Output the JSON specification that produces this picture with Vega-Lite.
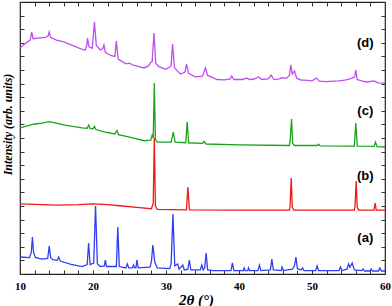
{
"$schema":"https://vega.github.io/schema/vega-lite/v6.json",
"width":365,"height":272,
"autosize":"none",
"padding":{"left":20,"top":2,"right":7,"bottom":32},
"background":"white",
"config":{"view":{"stroke":"#222","strokeWidth":1.2},"axis":{"grid":false,"domain":false,"tickColor":"#333","tickWidth":1}},
"datasets":{
"labels":[{"lab":"(a)","t":57.3,"v":2.65},{"lab":"(b)","t":57.3,"v":7.2},{"lab":"(c)","t":57.3,"v":11.99},{"lab":"(d)","t":57.3,"v":16.98}],
"xrd":[
{"s":"a","t":10,"v":1.25},{"s":"a","t":11.3,"v":1.2},{"s":"a","t":11.55,"v":1.6},{"s":"a","t":11.7,"v":2.72},{"s":"a","t":11.85,"v":1.6},{"s":"a","t":12.1,"v":1.22},{"s":"a","t":13.0,"v":1.1},{"s":"a","t":13.8,"v":1.15},{"s":"a","t":14.0,"v":2.06},{"s":"a","t":14.2,"v":1.2},{"s":"a","t":14.5,"v":1.05},{"s":"a","t":15.1,"v":1.0},{"s":"a","t":15.3,"v":1.25},{"s":"a","t":15.5,"v":0.95},{"s":"a","t":17.0,"v":0.7},{"s":"a","t":18.5,"v":0.55},{"s":"a","t":19.2,"v":0.7},{"s":"a","t":19.4,"v":2.28},{"s":"a","t":19.6,"v":0.7},{"s":"a","t":20.1,"v":0.8},{"s":"a","t":20.35,"v":5.0},{"s":"a","t":20.6,"v":0.75},{"s":"a","t":21.0,"v":0.55},{"s":"a","t":21.55,"v":0.6},{"s":"a","t":21.7,"v":1.03},{"s":"a","t":21.85,"v":0.55},{"s":"a","t":23.2,"v":0.55},{"s":"a","t":23.4,"v":3.46},{"s":"a","t":23.6,"v":0.55},{"s":"a","t":24.5,"v":0.45},{"s":"a","t":24.7,"v":0.74},{"s":"a","t":24.9,"v":0.45},{"s":"a","t":25.4,"v":0.45},{"s":"a","t":25.55,"v":0.66},{"s":"a","t":25.7,"v":0.45},{"s":"a","t":25.9,"v":0.5},{"s":"a","t":26.0,"v":1.03},{"s":"a","t":26.2,"v":0.45},{"s":"a","t":27.8,"v":0.5},{"s":"a","t":28.0,"v":0.9},{"s":"a","t":28.2,"v":2.13},{"s":"a","t":28.45,"v":0.9},{"s":"a","t":28.8,"v":0.45},{"s":"a","t":30.5,"v":0.4},{"s":"a","t":30.7,"v":0.7},{"s":"a","t":30.95,"v":4.41},{"s":"a","t":31.2,"v":0.6},{"s":"a","t":31.6,"v":0.74},{"s":"a","t":31.8,"v":0.35},{"s":"a","t":32.3,"v":0.66},{"s":"a","t":32.5,"v":0.3},{"s":"a","t":33.0,"v":0.35},{"s":"a","t":33.2,"v":1.03},{"s":"a","t":33.4,"v":0.3},{"s":"a","t":34.7,"v":0.3},{"s":"a","t":34.9,"v":0.66},{"s":"a","t":35.1,"v":0.3},{"s":"a","t":35.3,"v":0.45},{"s":"a","t":35.5,"v":1.54},{"s":"a","t":35.7,"v":0.3},{"s":"a","t":36.5,"v":0.25},{"s":"a","t":38.9,"v":0.25},{"s":"a","t":39.1,"v":0.81},{"s":"a","t":39.3,"v":0.25},{"s":"a","t":40.6,"v":0.25},{"s":"a","t":40.7,"v":0.44},{"s":"a","t":40.85,"v":0.25},{"s":"a","t":41.2,"v":0.25},{"s":"a","t":41.3,"v":0.44},{"s":"a","t":41.45,"v":0.25},{"s":"a","t":42.6,"v":0.25},{"s":"a","t":42.8,"v":0.66},{"s":"a","t":43.0,"v":0.25},{"s":"a","t":44.3,"v":0.3},{"s":"a","t":44.5,"v":1.1},{"s":"a","t":44.7,"v":0.3},{"s":"a","t":45.8,"v":0.25},{"s":"a","t":45.9,"v":0.51},{"s":"a","t":46.1,"v":0.25},{"s":"a","t":47.3,"v":0.35},{"s":"a","t":47.6,"v":0.6},{"s":"a","t":47.8,"v":1.25},{"s":"a","t":48.0,"v":0.4},{"s":"a","t":48.5,"v":0.3},{"s":"a","t":48.7,"v":0.44},{"s":"a","t":48.9,"v":0.25},{"s":"a","t":50.5,"v":0.25},{"s":"a","t":50.7,"v":0.59},{"s":"a","t":50.9,"v":0.25},{"s":"a","t":53.7,"v":0.25},{"s":"a","t":53.9,"v":0.51},{"s":"a","t":54.1,"v":0.25},{"s":"a","t":54.8,"v":0.35},{"s":"a","t":55.0,"v":0.74},{"s":"a","t":55.2,"v":0.5},{"s":"a","t":55.5,"v":0.81},{"s":"a","t":55.8,"v":0.3},{"s":"a","t":56.8,"v":0.25},{"s":"a","t":57.0,"v":0.37},{"s":"a","t":57.2,"v":0.22},{"s":"a","t":57.9,"v":0.22},{"s":"a","t":58.1,"v":0.37},{"s":"a","t":58.3,"v":0.22},{"s":"a","t":59.1,"v":0.22},{"s":"a","t":59.3,"v":0.44},{"s":"a","t":59.5,"v":0.22},{"s":"a","t":60,"v":0.22},
{"s":"b","t":10,"v":5.15},{"s":"b","t":15,"v":5.07},{"s":"b","t":18,"v":5.1},{"s":"b","t":20,"v":5.15},{"s":"b","t":22,"v":5.1},{"s":"b","t":24,"v":5.0},{"s":"b","t":26,"v":4.9},{"s":"b","t":28.0,"v":4.8},{"s":"b","t":28.25,"v":5.2},{"s":"b","t":28.4,"v":10.0},{"s":"b","t":28.55,"v":5.0},{"s":"b","t":28.8,"v":4.75},{"s":"b","t":32.8,"v":4.72},{"s":"b","t":33.0,"v":6.4},{"s":"b","t":33.2,"v":4.72},{"s":"b","t":40,"v":4.7},{"s":"b","t":46.9,"v":4.7},{"s":"b","t":47.0,"v":5.0},{"s":"b","t":47.15,"v":7.06},{"s":"b","t":47.3,"v":4.9},{"s":"b","t":47.5,"v":4.7},{"s":"b","t":55.8,"v":4.7},{"s":"b","t":55.9,"v":5.0},{"s":"b","t":56.05,"v":6.84},{"s":"b","t":56.2,"v":4.9},{"s":"b","t":56.4,"v":4.7},{"s":"b","t":58.5,"v":4.7},{"s":"b","t":58.65,"v":5.22},{"s":"b","t":58.8,"v":4.7},{"s":"b","t":60,"v":4.7},
{"s":"c","t":10,"v":10.74},{"s":"c","t":11,"v":10.9},{"s":"c","t":12,"v":11.03},{"s":"c","t":13,"v":11.1},{"s":"c","t":14,"v":11.2},{"s":"c","t":15,"v":11.1},{"s":"c","t":16,"v":10.96},{"s":"c","t":17,"v":10.88},{"s":"c","t":18.5,"v":10.75},{"s":"c","t":19.2,"v":10.72},{"s":"c","t":19.4,"v":10.95},{"s":"c","t":19.6,"v":10.7},{"s":"c","t":20.0,"v":10.68},{"s":"c","t":20.2,"v":10.85},{"s":"c","t":20.4,"v":10.62},{"s":"c","t":21.5,"v":10.45},{"s":"c","t":23.0,"v":10.3},{"s":"c","t":23.3,"v":10.55},{"s":"c","t":23.5,"v":10.25},{"s":"c","t":25,"v":10.07},{"s":"c","t":27.0,"v":9.8},{"s":"c","t":27.9,"v":9.85},{"s":"c","t":28.1,"v":10.2},{"s":"c","t":28.25,"v":10.0},{"s":"c","t":28.4,"v":14.04},{"s":"c","t":28.55,"v":9.9},{"s":"c","t":28.8,"v":9.7},{"s":"c","t":30.7,"v":9.7},{"s":"c","t":31.0,"v":10.44},{"s":"c","t":31.25,"v":9.7},{"s":"c","t":32.7,"v":9.65},{"s":"c","t":32.9,"v":11.18},{"s":"c","t":33.1,"v":9.65},{"s":"c","t":35.0,"v":9.6},{"s":"c","t":35.2,"v":9.75},{"s":"c","t":35.5,"v":9.56},{"s":"c","t":40,"v":9.5},{"s":"c","t":46.9,"v":9.45},{"s":"c","t":47.0,"v":9.8},{"s":"c","t":47.2,"v":11.4},{"s":"c","t":47.35,"v":9.6},{"s":"c","t":47.6,"v":9.45},{"s":"c","t":50.7,"v":9.45},{"s":"c","t":50.9,"v":9.55},{"s":"c","t":51.1,"v":9.42},{"s":"c","t":55.8,"v":9.4},{"s":"c","t":56.0,"v":11.1},{"s":"c","t":56.2,"v":9.4},{"s":"c","t":58.5,"v":9.38},{"s":"c","t":58.7,"v":9.7},{"s":"c","t":58.9,"v":9.36},{"s":"c","t":60,"v":9.34},
{"s":"d","t":10,"v":16.62},{"s":"d","t":10.5,"v":16.85},{"s":"d","t":11.0,"v":17.06},{"s":"d","t":11.4,"v":17.2},{"s":"d","t":11.6,"v":17.79},{"s":"d","t":11.8,"v":17.3},{"s":"d","t":12.5,"v":17.35},{"s":"d","t":13.5,"v":17.4},{"s":"d","t":13.85,"v":17.5},{"s":"d","t":14.0,"v":17.79},{"s":"d","t":14.2,"v":17.4},{"s":"d","t":15.0,"v":17.2},{"s":"d","t":16,"v":17.06},{"s":"d","t":17,"v":16.85},{"s":"d","t":18,"v":16.62},{"s":"d","t":18.9,"v":16.45},{"s":"d","t":19.15,"v":16.8},{"s":"d","t":19.25,"v":17.35},{"s":"d","t":19.45,"v":16.7},{"s":"d","t":19.9,"v":16.6},{"s":"d","t":20.2,"v":18.53},{"s":"d","t":20.45,"v":16.8},{"s":"d","t":21.0,"v":16.47},{"s":"d","t":21.35,"v":16.6},{"s":"d","t":21.5,"v":16.84},{"s":"d","t":21.7,"v":16.3},{"s":"d","t":22.5,"v":16.05},{"s":"d","t":23.0,"v":16.0},{"s":"d","t":23.2,"v":17.13},{"s":"d","t":23.45,"v":15.8},{"s":"d","t":24.5,"v":15.45},{"s":"d","t":25.0,"v":15.5},{"s":"d","t":25.5,"v":15.35},{"s":"d","t":26,"v":15.3},{"s":"d","t":26.5,"v":15.22},{"s":"d","t":27,"v":15.15},{"s":"d","t":27.6,"v":15.3},{"s":"d","t":27.9,"v":15.55},{"s":"d","t":28.1,"v":15.6},{"s":"d","t":28.35,"v":17.72},{"s":"d","t":28.6,"v":15.5},{"s":"d","t":29.0,"v":15.25},{"s":"d","t":30.0,"v":15.05},{"s":"d","t":30.7,"v":15.3},{"s":"d","t":30.9,"v":16.91},{"s":"d","t":31.15,"v":15.2},{"s":"d","t":31.5,"v":14.95},{"s":"d","t":32.0,"v":14.7},{"s":"d","t":32.6,"v":14.85},{"s":"d","t":32.8,"v":15.44},{"s":"d","t":33.1,"v":14.75},{"s":"d","t":34.0,"v":14.5},{"s":"d","t":35.0,"v":14.55},{"s":"d","t":35.4,"v":15.15},{"s":"d","t":35.7,"v":14.6},{"s":"d","t":36.2,"v":14.5},{"s":"d","t":37,"v":14.3},{"s":"d","t":38,"v":14.28},{"s":"d","t":38.8,"v":14.35},{"s":"d","t":39.0,"v":14.56},{"s":"d","t":39.3,"v":14.3},{"s":"d","t":40.5,"v":14.3},{"s":"d","t":41.0,"v":14.41},{"s":"d","t":41.5,"v":14.3},{"s":"d","t":42.0,"v":14.32},{"s":"d","t":42.7,"v":14.49},{"s":"d","t":43.1,"v":14.3},{"s":"d","t":44.0,"v":14.35},{"s":"d","t":44.4,"v":14.63},{"s":"d","t":44.8,"v":14.3},{"s":"d","t":45.5,"v":14.35},{"s":"d","t":45.8,"v":14.41},{"s":"d","t":46.5,"v":14.4},{"s":"d","t":46.9,"v":14.6},{"s":"d","t":47.1,"v":15.37},{"s":"d","t":47.3,"v":14.7},{"s":"d","t":47.6,"v":14.93},{"s":"d","t":47.9,"v":14.4},{"s":"d","t":48.5,"v":14.25},{"s":"d","t":49.0,"v":14.25},{"s":"d","t":50.0,"v":14.2},{"s":"d","t":50.6,"v":14.41},{"s":"d","t":51.0,"v":14.18},{"s":"d","t":52,"v":14.15},{"s":"d","t":53.0,"v":14.18},{"s":"d","t":53.7,"v":14.2},{"s":"d","t":54.5,"v":14.25},{"s":"d","t":55.2,"v":14.35},{"s":"d","t":55.5,"v":14.4},{"s":"d","t":55.85,"v":14.5},{"s":"d","t":56.0,"v":15.0},{"s":"d","t":56.2,"v":14.3},{"s":"d","t":56.8,"v":14.2},{"s":"d","t":57.5,"v":14.12},{"s":"d","t":58.5,"v":14.2},{"s":"d","t":59,"v":14.05},{"s":"d","t":60,"v":14.04}
]},
"layer":[
{"data":{"name":"xrd"},"mark":{"type":"line","strokeWidth":1.3},
 "encoding":{
  "x":{"field":"t","type":"quantitative","scale":{"domain":[10,60],"nice":false,"zero":false},
   "axis":{"orient":"bottom","values":[10,12,14,16,18,20,22,24,26,28,30,32,34,36,38,40,42,44,46,48,50,52,54,56,58,60],
    "labelExpr":"datum.value % 10 === 0 ? datum.label : ''","labelFlush":false,"labelOverlap":false,
    "tickSize":-4,"labelPadding":10,"labelFont":"Liberation Serif","labelFontWeight":"bold","labelFontSize":11,"labelColor":"#000",
    "title":"2θ (°)","titleFont":"Liberation Serif","titleFontStyle":"italic","titleFontWeight":"bold","titleFontSize":15,"titleColor":"#000",
    "titleX":176,"titleY":25,"titleBaseline":"middle"}},
  "y":{"field":"v","type":"quantitative","scale":{"domain":[0,20],"nice":false,"zero":false},
   "axis":{"orient":"left","values":[0,1,2,3,4,5,6,7,8,9,10,11,12,13,14,15,16,17,18,19,20],"labels":false,"tickSize":-4,
    "title":"Intensity (arb. units)","titleFont":"Liberation Serif","titleFontStyle":"italic","titleFontWeight":"bold","titleFontSize":12,"titleColor":"#000",
    "titleX":-13,"titleY":122,"titleBaseline":"middle"}},
  "color":{"field":"s","type":"nominal","scale":{"domain":["a","b","c","d"],"range":["#2f3ff0","#f01818","#19a319","#c04cf2"]},"legend":null},
  "order":{"field":"t","type":"quantitative"}
 }},
{"data":{"name":"xrd"},"mark":{"type":"point","opacity":0},
 "encoding":{
  "x":{"field":"t","type":"quantitative","axis":{"orient":"top","values":[10,12,14,16,18,20,22,24,26,28,30,32,34,36,38,40,42,44,46,48,50,52,54,56,58,60],"labels":false,"tickSize":-4,"title":null}},
  "y":{"field":"v","type":"quantitative","axis":{"orient":"right","values":[0,1,2,3,4,5,6,7,8,9,10,11,12,13,14,15,16,17,18,19,20],"labels":false,"tickSize":-4,"title":null}}
 }},
{"data":{"name":"labels"},"mark":{"type":"text","font":"Liberation Sans","fontWeight":"bold","fontSize":13,"color":"#000"},
 "encoding":{
  "x":{"field":"t","type":"quantitative","axis":null},
  "y":{"field":"v","type":"quantitative","axis":null},
  "text":{"field":"lab"}
 }}
],
"resolve":{"axis":{"x":"independent","y":"independent"}}
}
